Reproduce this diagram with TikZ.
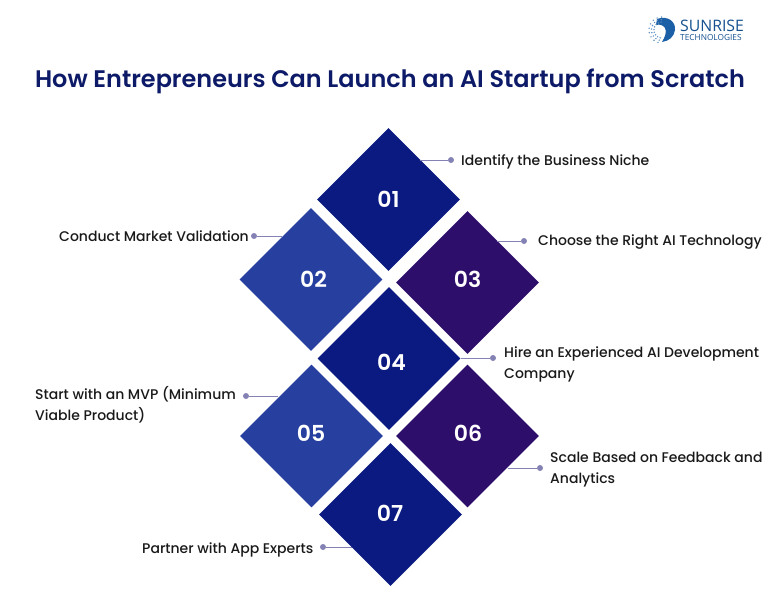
\documentclass[tikz,border=0pt]{standalone}
\usepackage{fontspec}
\setmainfont{Poppins}
\newfontfamily\medfont{Poppins Medium}
\newfontfamily\semifont{Poppins SemiBold}
\newfontfamily\logofont{Open Sans}
\usetikzlibrary{shapes.geometric}
\definecolor{navy}{HTML}{0A1A80}
\definecolor{midblue}{HTML}{27409F}
\definecolor{deeppurple}{HTML}{2D0F6B}
\definecolor{titleblue}{HTML}{0C1A68}
\definecolor{leadgrey}{HTML}{8482B4}
\definecolor{logoblue}{HTML}{1B5FA6}
\definecolor{logotext}{HTML}{14508F}
\tikzstyle{tile}=[diamond,aspect=1,minimum width=143pt,minimum height=143pt,inner sep=0pt]
\tikzstyle{number}=[inner sep=0pt,text=white,font=\semifont\fontsize{22}{22}\selectfont]
\tikzstyle{dot}=[circle,fill=leadgrey,minimum size=6pt,inner sep=0pt]
\tikzstyle{lead}=[draw=leadgrey,line width=1pt]
\tikzstyle{caption}=[anchor=west,inner sep=0pt,align=left,text=black!90,font=\medfont\fontsize{14}{21}\selectfont]

\begin{document}
\begin{tikzpicture}[x=1pt,y=-1pt]
    \useasboundingbox (0,0) rectangle (780,611);

    % heading and logo
    \node[inner sep=0pt,text=titleblue,font=\semifont\fontsize{23.95}{23.95}\selectfont] (heading) at (390,81.5) {How Entrepreneurs Can Launch an AI Startup from Scratch};
    \node[anchor=west,inner sep=0pt,text=logotext,font=\logofont\fontsize{15.8}{15.8}\selectfont] (logoname) at (680,25.5) {SUNRISE};
    \node[anchor=west,inner sep=0pt,text=logotext,font=\logofont\fontsize{8.3}{8.3}\selectfont] (logosub) at (680,37.5) {TECHNOLOGIES};
    \fill[logoblue] (657,19) .. controls (668,15) and (676,22) .. (675,30) .. controls (674,37) and (669,41) .. (662,42) .. controls (665,37) and (667,32) .. (665,28) .. controls (663,25) and (660,24) .. (656,25) -- cycle;
    \foreach \ang in {95,115,...,255}
        \foreach \rad in {8,10.5,13}
            \fill[logoblue!70] (662,30) ++({\ang+\rad}:\rad) circle (0.8);

    % the tiles
    \foreach \pos/ \name/ \shade in {{(388.5,199.5)/01/navy},{(311,279.5)/02/midblue},{(467.5,282.5)/03/deeppurple},{(389,358.5)/04/navy},{(311.5,436)/05/midblue},{(467.5,436)/06/deeppurple},{(390.5,514.5)/07/navy}}
        \node[tile,fill=\shade] (t\name) at \pos {};

    \foreach \pos/ \name in {{(388.5,199)/01},{(313.5,279)/02},{(467.5,279)/03},{(391.5,362)/04},{(311,433)/05},{(468,433)/06},{(390,513)/07}}
        \node[number] (n\name) at \pos {\name};

    % captions with their dots
    \foreach \pos/ \name/ \txt in {{(461,162)/a/Identify the Business Niche},{(59,236)/b/Conduct Market Validation},{(538,242)/c/Choose the Right AI Technology},{(504,364.5)/d/{Hire an Experienced AI Development\\Company}},{(35,404.5)/e/{Start with an MVP (Minimum\\Viable Product)}},{(550,469.5)/f/{Scale Based on Feedback and\\Analytics}},{(142,550)/g/Partner with App Experts}}
        \node[caption] (cap\name) at \pos {\txt};

    \foreach \pos/ \name in {{(451,160)/a},{(254,236)/b},{(524,241)/c},{(493,358)/d},{(246,396)/e},{(540,468)/f},{(323,547)/g}}
        \node[dot] (dot\name) at \pos {};

    % where the leads meet the tiles
    \foreach \pos/ \name in {{(420,160)/a},{(282,236)/b},{(497,241)/c},{(461,358)/d},{(278,396)/e},{(508,468)/f},{(352,547)/g}}
        \path \pos coordinate (end\name);

    \foreach \name in {a,b,c,d,e,f,g}
        \path[lead] (dot\name) -- (end\name);

\end{tikzpicture}
\end{document}
